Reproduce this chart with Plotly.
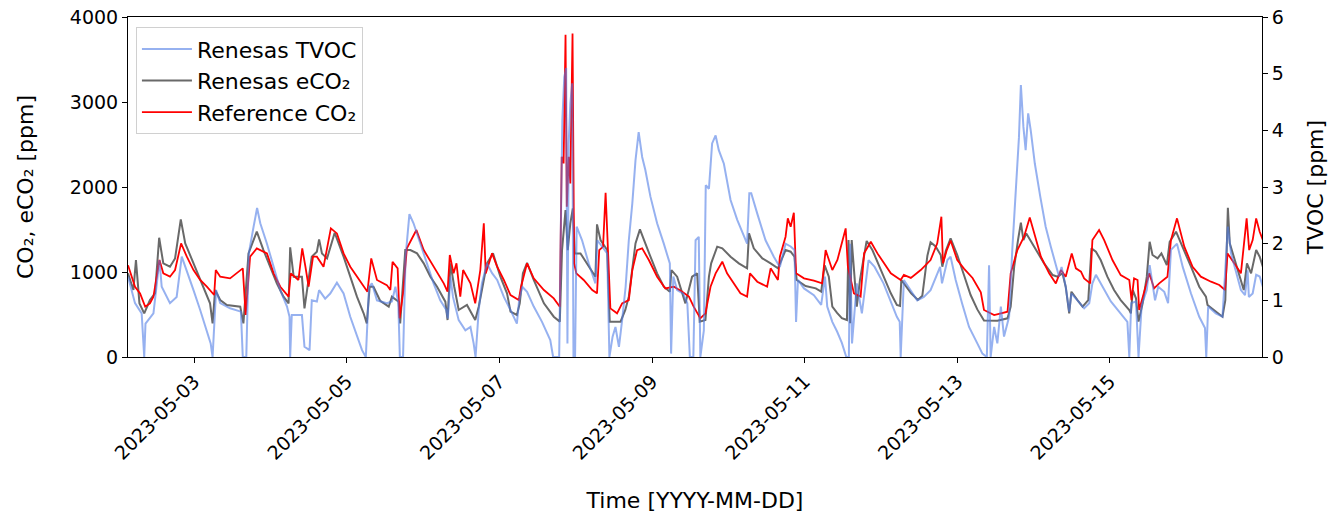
import pandas as pd
import plotly.graph_objects as go

# time given as hours after 2023-05-02 00:00
START = "2023-05-02"

ref_co2 = [
    (3.2, 1080), (5.4, 827), (7.0, 749), (8.6, 592), (10.1, 631), (11.2, 710), (13.1, 1141), (14.3, 984),
    (16.4, 945), (18.0, 1023), (19.9, 1337), (21.7, 1180), (23.8, 1023), (25.9, 906), (28.0, 827), (30.3, 729),
    (30.8, 1023), (32.2, 945), (35.3, 925), (37.4, 984), (39.3, 1043), (40.2, 494), (41.6, 1180), (43.7, 1278),
    (46.9, 1219), (49.0, 984), (51.1, 827), (53.7, 710), (54.4, 984), (56.8, 906), (58.0, 1278), (59.0, 1062),
    (60.0, 827), (61.4, 1180), (62.6, 1180), (64.7, 1062), (65.8, 1258), (67.0, 1513), (68.9, 1454), (71.0, 1219),
    (73.1, 1062), (75.2, 945), (77.3, 827), (78.5, 768), (79.7, 1160), (81.5, 906), (84.6, 846), (85.7, 788),
    (86.4, 1121), (88.0, 1043), (88.6, 455), (89.7, 749), (90.9, 1278), (93.9, 1494), (96.2, 1258), (99.3, 1062),
    (102.5, 866), (103.7, 768), (104.4, 1200), (105.6, 984), (106.5, 1102), (107.7, 710), (108.6, 1023),
    (110.9, 866), (112.4, 631), (114.0, 1023), (115.1, 1572), (115.7, 984), (117.7, 1219), (119.3, 1062),
    (121.4, 906), (123.5, 729), (126.1, 670), (126.8, 827), (128.7, 1102), (130.8, 925), (134.0, 788),
    (137.1, 690), (139.0, 592), (139.6, 2356), (140.2, 2278), (140.8, 3790), (141.2, 1768), (141.8, 2356),
    (142.3, 2042), (143.0, 3806), (143.5, 1102), (144.2, 984), (146.5, 906), (149.2, 788), (150.7, 749),
    (151.4, 1258), (152.6, 1298), (153.4, 1933), (154.1, 1258), (154.9, 572), (157.0, 514), (158.6, 631),
    (160.7, 670), (161.8, 1023), (163.3, 1258), (164.9, 1278), (167.0, 1141), (169.6, 945), (172.2, 807),
    (174.9, 827), (177.5, 768), (179.6, 710), (181.1, 592), (183.2, 455), (184.8, 514), (186.4, 827),
    (188.0, 984), (190.1, 1121), (191.6, 984), (193.7, 866), (195.8, 749), (197.9, 710), (198.8, 984),
    (201.1, 886), (204.2, 827), (205.3, 1043), (207.6, 906), (208.2, 1180), (210.0, 1415), (210.7, 1631),
    (211.6, 1533), (212.6, 1697), (213.3, 984), (215.8, 925), (218.9, 898), (221.5, 866), (222.6, 1258),
    (224.7, 1023), (226.3, 1141), (228.9, 1513), (229.6, 1062), (231.5, 749), (233.6, 710), (234.7, 1219),
    (236.8, 1356), (238.9, 1219), (241.0, 1102), (243.1, 984), (246.2, 906), (247.2, 965), (249.4, 930),
    (252.5, 1023), (255.6, 1141), (257.7, 1337), (259.0, 1651), (259.5, 1102), (260.7, 1258), (261.9, 1370),
    (264.0, 1141), (266.1, 1040), (268.8, 930), (271.4, 760), (272.4, 553), (275.6, 494), (279.8, 533),
    (280.8, 984), (282.9, 1258), (285.0, 1415), (286.8, 1642), (288.2, 1454), (290.3, 1180), (292.9, 984),
    (295.0, 866), (296.6, 1023), (298.1, 945), (300.0, 1219), (301.3, 1043), (302.9, 1004), (303.9, 925),
    (305.8, 866), (306.5, 1376), (308.6, 1494), (310.2, 1376), (312.8, 1141), (315.4, 964), (318.1, 906),
    (318.8, 670), (319.6, 925), (320.7, 906), (321.2, 553), (322.3, 710), (324.4, 984), (325.9, 807),
    (327.5, 866), (330.1, 945), (331.2, 1376), (333.1, 1631), (335.4, 1298), (338.0, 1062), (340.6, 945),
    (343.8, 886), (346.4, 847), (348.2, 788), (349.0, 1219), (351.1, 1102), (353.2, 984), (355.0, 1631),
    (355.8, 1258), (356.9, 1376), (358.0, 1631), (359.1, 1474), (360.1, 1376),
]

renesas_eco2 = [
    (3.2, 984), (4.9, 788), (5.7, 1141), (6.8, 631), (8.3, 514), (10.1, 670), (11.7, 749), (13.0, 1403),
    (14.3, 1102), (16.4, 1062), (18.0, 1160), (19.8, 1619), (21.2, 1337), (23.3, 1141), (25.4, 945),
    (27.5, 749), (29.0, 631), (29.8, 396), (30.6, 788), (32.2, 670), (34.3, 612), (38.5, 592), (39.5, 396),
    (41.1, 1219), (43.7, 1474), (45.8, 1258), (47.9, 1062), (50.0, 866), (52.1, 710), (53.7, 631),
    (54.2, 1290), (55.3, 945), (57.9, 945), (58.7, 572), (61.0, 1180), (62.6, 1239), (63.3, 1384),
    (64.2, 1219), (65.8, 1160), (68.2, 1462), (71.0, 1180), (73.1, 945), (75.2, 710), (77.3, 514),
    (78.3, 396), (79.2, 827), (80.4, 827), (82.5, 662), (85.2, 592), (86.2, 710), (88.3, 651), (88.8, 396),
    (90.4, 1258), (92.0, 1258), (94.1, 1219), (96.2, 1102), (98.3, 945), (100.4, 827), (103.0, 651),
    (103.7, 435), (104.6, 1102), (105.8, 827), (107.2, 553), (109.8, 612), (112.4, 435), (113.5, 592),
    (116.1, 1102), (118.0, 1219), (120.3, 945), (122.4, 749), (123.5, 533), (125.5, 494), (126.4, 631),
    (127.4, 984), (128.7, 1109), (130.8, 906), (134.0, 631), (137.1, 474), (139.0, 416), (139.7, 1258),
    (140.8, 1729), (141.5, 1258), (142.3, 1572), (143.1, 1748), (143.7, 1219), (145.5, 1219), (147.6, 1102),
    (150.2, 945), (150.7, 1560), (151.8, 1376), (153.9, 1258), (154.7, 416), (158.1, 416), (159.6, 553),
    (160.7, 710), (161.8, 1062), (162.8, 1337), (164.2, 1501), (165.4, 1376), (167.5, 1180), (169.6, 984),
    (171.7, 827), (173.6, 768), (174.1, 1023), (175.9, 945), (177.8, 710), (178.5, 631), (180.6, 945),
    (182.2, 984), (183.0, 416), (184.8, 435), (185.9, 945), (186.6, 1102), (188.5, 1298), (190.1, 1278),
    (192.7, 1180), (195.3, 1102), (197.9, 1043), (198.5, 1454), (200.0, 1278), (202.7, 1160), (205.3, 1102),
    (207.6, 1043), (210.0, 1258), (211.6, 1239), (212.8, 1180), (213.5, 906), (216.3, 835), (219.5, 807),
    (221.2, 769), (222.3, 1078), (223.6, 945), (224.7, 592), (226.2, 518), (227.7, 457), (229.3, 435),
    (229.8, 1376), (230.3, 396), (230.8, 1376), (232.4, 592), (233.4, 906), (234.5, 1150), (235.5, 1365),
    (237.3, 1259), (240.0, 1023), (243.1, 749), (245.0, 612), (246.0, 600), (246.4, 906), (249.5, 749),
    (251.6, 672), (253.0, 720), (254.6, 1192), (255.6, 1349), (257.2, 1300), (258.8, 1200), (259.3, 1062),
    (260.4, 1250), (261.9, 1396), (264.0, 1200), (266.1, 965), (268.2, 729), (270.3, 560), (272.4, 430),
    (276.6, 427), (279.8, 455), (280.8, 592), (281.9, 1062), (283.1, 1376), (284.0, 1580), (284.8, 1376),
    (285.7, 1454), (286.6, 1396), (288.7, 1258), (291.3, 1102), (294.0, 964), (295.5, 945), (297.1, 984),
    (298.1, 827), (299.2, 514), (299.9, 768), (301.8, 670), (303.4, 592), (305.2, 670), (306.2, 1278),
    (307.6, 1239), (309.1, 1141), (311.2, 945), (313.3, 788), (315.4, 670), (318.1, 553), (318.6, 514),
    (319.2, 788), (320.2, 690), (321.0, 416), (322.3, 631), (323.6, 945), (324.5, 1356), (325.4, 1200),
    (327.0, 1160), (328.2, 1219), (329.9, 1082), (330.8, 1356), (332.8, 1474), (334.9, 1298), (337.5, 1062),
    (340.1, 827), (342.2, 710), (342.7, 612), (345.3, 533), (347.4, 474), (348.3, 670), (348.7, 1180),
    (349.1, 1756), (349.7, 1337), (351.1, 1160), (352.7, 945), (354.1, 788), (355.1, 1102), (356.4, 984),
    (358.0, 1258), (359.1, 1180), (360.1, 1062),
]

renesas_tvoc = [
    (3.2, 1.42), (5.4, 0.95), (7.5, 0.77), (8.3, 0.0), (8.7, 0.59), (11.2, 0.77), (13.1, 1.71), (13.8, 1.24),
    (16.4, 0.95), (18.5, 1.06), (20.1, 1.77), (21.7, 1.53), (23.8, 1.18), (25.9, 0.83), (28.0, 0.47),
    (29.2, 0.24), (29.8, 0.0), (30.9, 1.18), (32.2, 0.95), (35.3, 0.86), (38.7, 0.80), (39.3, 0.0),
    (40.4, 0.0), (41.2, 1.83), (42.7, 2.30), (43.8, 2.63), (44.8, 2.36), (46.9, 2.00), (49.0, 1.59),
    (51.1, 1.18), (53.2, 0.89), (54.0, 0.71), (54.2, 0.0), (54.7, 0.74), (57.9, 0.74), (58.7, 0.18),
    (60.3, 0.12), (61.0, 1.00), (62.6, 0.98), (63.3, 1.18), (65.2, 1.03), (66.8, 1.12), (68.9, 1.31),
    (71.0, 1.12), (73.1, 0.71), (75.2, 0.36), (76.8, 0.12), (78.0, 0.0), (79.0, 1.24), (79.9, 1.30),
    (81.5, 1.00), (84.6, 0.95), (86.2, 0.98), (87.3, 1.24), (88.2, 0.95), (88.7, 0.0), (89.7, 0.0),
    (90.5, 1.77), (91.7, 2.52), (93.0, 2.36), (95.1, 2.00), (97.2, 1.65), (99.3, 1.30), (101.4, 1.00),
    (103.3, 0.83), (103.8, 0.68), (104.6, 1.42), (105.4, 1.06), (107.2, 0.65), (109.3, 0.47), (110.9, 0.53),
    (111.9, 0.24), (112.5, 0.0), (113.5, 0.83), (114.5, 1.30), (116.1, 1.65), (117.7, 1.48), (119.3, 1.36),
    (121.4, 1.06), (123.5, 0.83), (125.5, 0.59), (126.2, 1.00), (127.2, 1.24), (128.7, 1.15), (130.8, 0.89),
    (133.4, 0.62), (136.0, 0.30), (136.9, 0.0), (138.8, 0.0), (139.4, 2.59), (139.8, 4.18), (140.4, 4.94),
    (141.0, 5.10), (141.4, 0.24), (141.8, 3.77), (142.3, 4.47), (142.9, 4.83), (143.3, 0.0), (143.8, 0.0),
    (144.3, 2.30), (146.0, 2.06), (148.1, 1.65), (150.2, 1.30), (150.8, 2.06), (152.3, 1.95), (153.9, 1.83),
    (154.6, 0.0), (155.6, 0.36), (156.5, 0.53), (157.6, 0.18), (158.6, 0.65), (159.7, 1.24), (160.7, 2.06),
    (161.8, 2.71), (162.8, 3.47), (163.8, 3.97), (164.9, 3.53), (165.9, 3.30), (167.5, 2.83), (169.6, 2.36),
    (171.7, 2.00), (173.6, 1.65), (174.0, 0.06), (174.7, 1.42), (175.9, 1.18), (177.8, 1.12), (179.1, 0.95),
    (179.9, 0.0), (181.0, 0.0), (181.7, 2.06), (182.7, 2.12), (183.2, 0.0), (184.3, 0.47), (184.9, 3.03),
    (185.9, 2.97), (186.9, 3.77), (188.0, 3.91), (189.0, 3.65), (190.6, 3.41), (192.7, 2.77), (194.8, 2.42),
    (196.9, 2.12), (197.9, 2.00), (198.6, 2.89), (199.2, 2.89), (201.1, 2.53), (203.7, 2.06), (206.3, 1.77),
    (208.2, 1.59), (210.0, 2.00), (211.6, 1.95), (212.8, 1.89), (213.3, 0.62), (213.9, 1.36), (215.8, 1.21),
    (218.9, 1.09), (221.2, 0.92), (222.4, 1.42), (223.1, 0.89), (224.7, 0.62), (226.2, 0.45), (227.7, 0.25),
    (229.1, 0.0), (229.9, 0.0), (230.3, 2.00), (230.9, 0.24), (232.4, 1.30), (234.0, 0.77), (236.1, 1.71),
    (238.0, 1.59), (240.8, 1.30), (245.0, 0.71), (245.9, 0.62), (246.2, 0.0), (247.2, 1.36), (251.4, 1.00),
    (253.5, 1.06), (255.6, 1.18), (258.6, 1.59), (259.2, 1.30), (260.9, 1.71), (261.9, 1.77), (263.5, 1.36),
    (265.5, 0.95), (267.7, 0.53), (270.3, 0.24), (271.9, 0.06), (273.3, 0.0), (274.0, 1.62), (274.5, 0.0),
    (275.6, 0.53), (276.6, 0.24), (277.7, 0.89), (278.7, 0.36), (280.3, 0.71), (281.3, 1.89), (282.4, 3.06),
    (283.4, 3.88), (284.0, 4.80), (284.8, 4.06), (285.5, 3.65), (286.3, 4.30), (287.1, 4.00), (288.4, 3.41),
    (290.1, 2.83), (291.8, 2.30), (293.4, 1.95), (295.0, 1.65), (296.0, 1.42), (296.8, 1.59), (298.1, 1.24),
    (299.2, 0.80), (299.9, 1.12), (301.8, 1.00), (303.9, 0.86), (305.5, 0.95), (306.5, 1.30), (307.6, 1.45),
    (309.7, 1.24), (312.3, 0.98), (314.9, 0.80), (317.5, 0.62), (318.1, 0.0), (318.7, 0.95), (320.2, 0.98),
    (321.0, 0.0), (322.0, 0.92), (323.6, 1.18), (324.5, 1.62), (325.4, 1.30), (326.2, 1.00), (327.2, 1.24),
    (329.1, 1.15), (330.3, 0.95), (331.2, 1.89), (333.1, 2.00), (334.9, 1.59), (337.5, 1.12), (340.1, 0.71),
    (341.9, 0.51), (342.3, 0.0), (342.9, 0.89), (345.3, 0.77), (347.4, 0.71), (348.5, 1.65), (349.1, 2.30),
    (350.1, 1.83), (351.6, 1.53), (353.2, 1.18), (354.5, 1.09), (355.3, 1.53), (355.7, 1.06), (356.9, 1.12),
    (358.0, 1.45), (359.1, 1.42), (360.1, 1.24),
]

x_range = ["2023-05-02 03:12", "2023-05-16 23:50"]
x_tick_start = "2023-05-03"


def to_time(pairs):
    hours = [p[0] for p in pairs]
    vals = [p[1] for p in pairs]
    t = pd.Timestamp(START) + pd.to_timedelta(hours, unit="h")
    return t, vals


eco2_t, eco2_v = to_time(renesas_eco2)
ref_t, ref_v = to_time(ref_co2)
tvoc_t, tvoc_v = to_time(renesas_tvoc)

FONT = "DejaVu Sans"
TICK_FS = 19
TITLE_FS = 22

fig = go.Figure()
fig.add_trace(go.Scatter(x=eco2_t, y=eco2_v, mode="lines", name="Renesas eCO₂",
                         line=dict(color="#696969", width=2), legendrank=2))
fig.add_trace(go.Scatter(x=ref_t, y=ref_v, mode="lines", name="Reference CO₂",
                         line=dict(color="#ff0000", width=1.8), legendrank=3))
fig.add_trace(go.Scatter(x=tvoc_t, y=tvoc_v, mode="lines", name="Renesas TVOC", yaxis="y2",
                         line=dict(color="rgba(80,125,230,0.6)", width=2), legendrank=1))

axis_common = dict(showline=True, linecolor="black", linewidth=1, ticks="outside", ticklen=5,
                   tickcolor="black", showgrid=False, zeroline=False, automargin=False,
                   ticklabeloverflow="allow",
                   tickfont=dict(family=FONT, size=TICK_FS, color="black"))

fig.update_layout(
    width=1335, height=515, autosize=False,
    margin=dict(l=128, r=73, t=17, b=158),
    paper_bgcolor="white", plot_bgcolor="white",
    font=dict(family=FONT, size=TICK_FS, color="black"),
    xaxis=dict(type="date", range=x_range, tick0=x_tick_start, dtick=2 * 86400000,
               tickformat="%Y-%m-%d", tickangle=-45, mirror=True,
               title=dict(text="Time [YYYY-MM-DD]", font=dict(family=FONT, size=TITLE_FS), standoff=29),
               **axis_common),
    yaxis=dict(range=[0, 4000], dtick=1000,
               title=dict(text="CO₂, eCO₂ [ppm]", font=dict(family=FONT, size=TITLE_FS), standoff=30),
               **axis_common),
    yaxis2=dict(range=[0, 6], dtick=1, overlaying="y", side="right",
                title=dict(text="TVOC [ppm]", font=dict(family=FONT, size=TITLE_FS), standoff=24),
                **axis_common),
    legend=dict(x=0.007, y=0.97, xanchor="left", yanchor="top", bgcolor="rgba(255,255,255,0.9)",
                bordercolor="#d0d0d0", borderwidth=1, font=dict(family=FONT, size=TITLE_FS),
                traceorder="normal", tracegroupgap=0, itemwidth=50),
    showlegend=True,
)

fig.write_html("out.html", config={"displayModeBar": False},
               post_script="document.body.style.margin='0px';")
